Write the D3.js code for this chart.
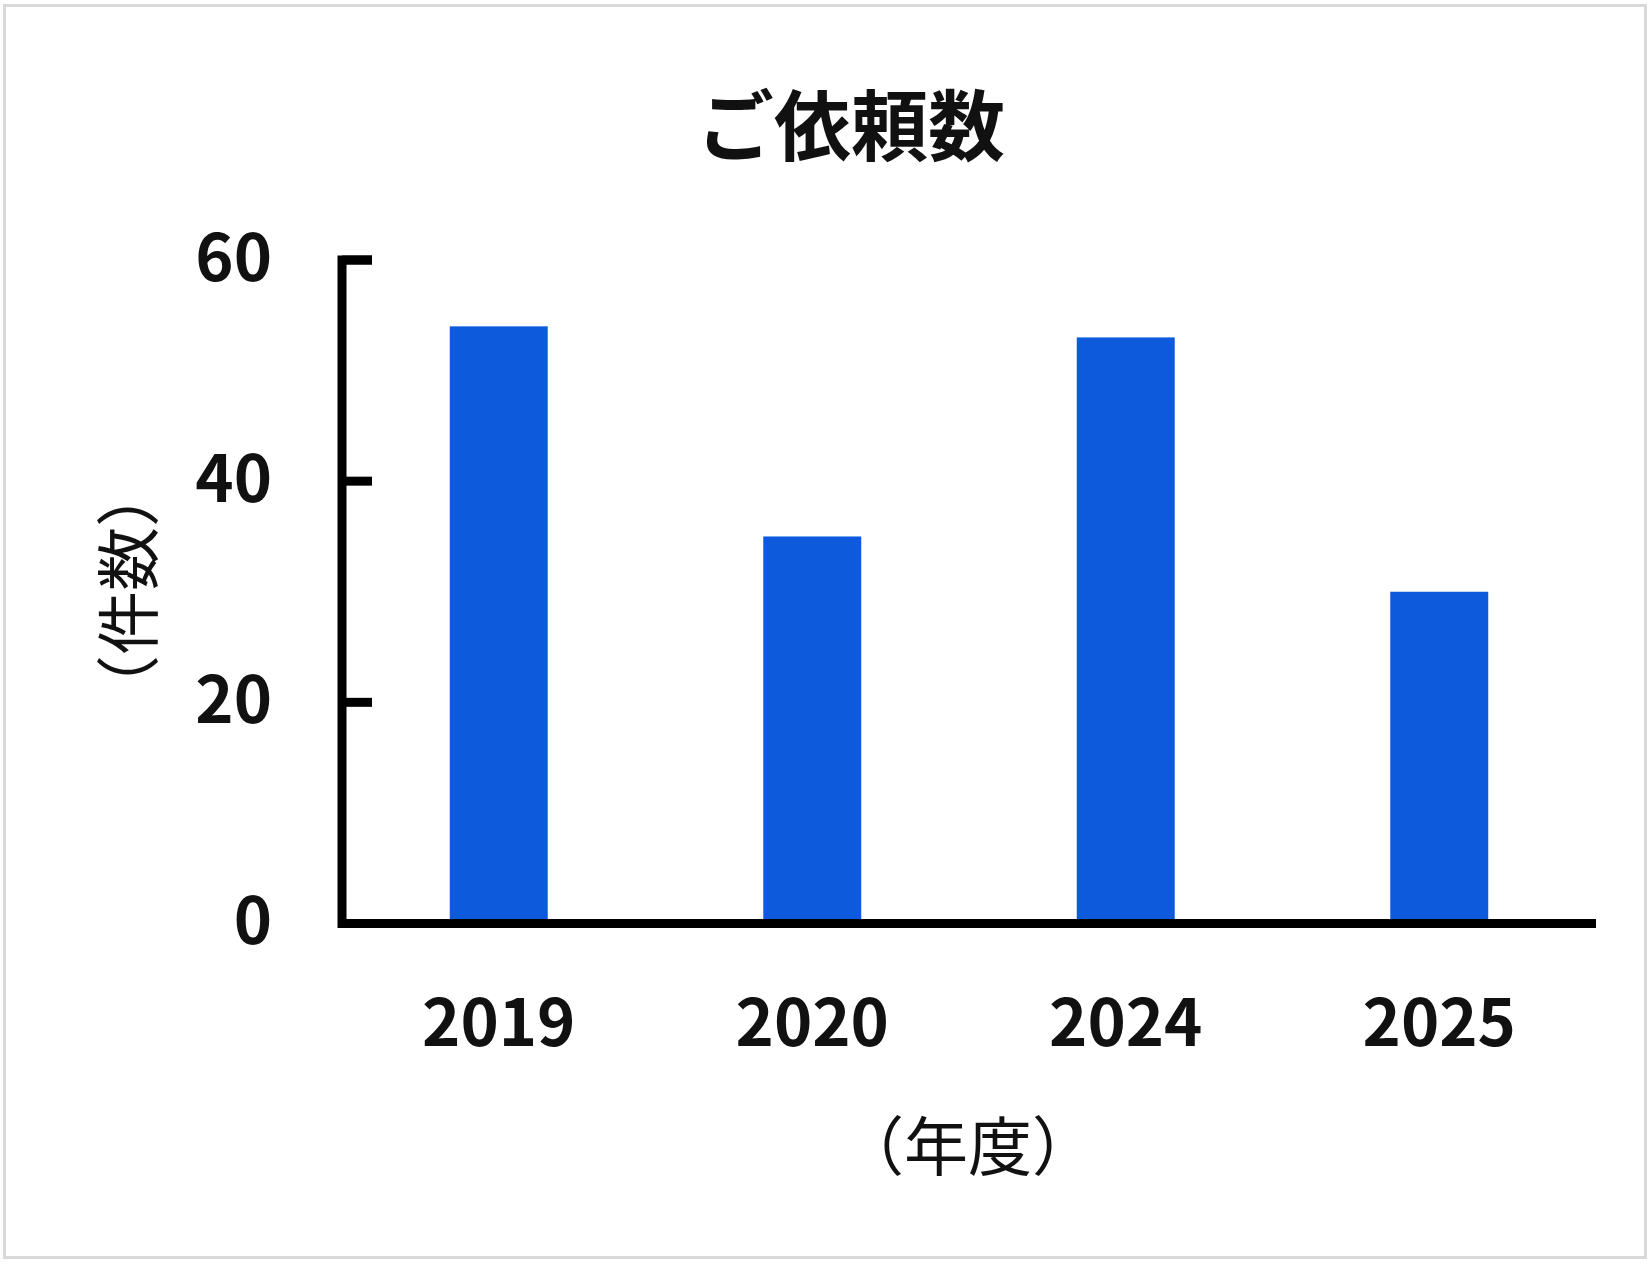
<!DOCTYPE html>
<html lang="ja">
<head>
<meta charset="utf-8">
<title>ご依頼数</title>
<style>
  html, body { margin: 0; padding: 0; background: #fff; }
  svg { display: block; font-family: 'Noto Sans CJK JP', 'Noto Sans', sans-serif; }
</style>
<script src="https://d3js.org/d3.v7.min.js"></script>
</head>
<body>
<svg id="chart" width="1650" height="1265"></svg>
<script>
// data
const years = ["2019", "2020", "2024", "2025"];
const counts = [54, 35, 53, 30];
const yTicks = [0, 20, 40, 60];
const titleText = "ご依頼数";
const yLabel = "（件数）";
const xLabel = "（年度）";

const svg = d3.select("#chart");

// frame
svg.append("rect")
  .attr("x", 4.5).attr("y", 5.5)
  .attr("width", 1641).attr("height", 1252)
  .attr("fill", "#fff")
  .attr("stroke", "#d9d9d9")
  .attr("stroke-width", 3);

const x0 = 342, x1 = 1596;
const yBase = 923.5, yTop = 260;

const x = d3.scaleBand().domain(years).range([x0, x1]).padding(0);
const y = d3.scaleLinear().domain([0, 60]).range([yBase, yTop]);
const barW = x.bandwidth() * 0.3125;

// bars
svg.append("g").selectAll("rect")
  .data(years)
  .join("rect")
  .attr("x", (d) => x(d) + x.bandwidth() / 2 - barW / 2)
  .attr("y", (d, i) => y(counts[i]))
  .attr("width", barW)
  .attr("height", (d, i) => y(0) - y(counts[i]))
  .attr("fill", "#0e5adc");

// y axis, ticks pointing into the plot
const yAxis = svg.append("g")
  .attr("transform", `translate(${x0},0)`)
  .call(d3.axisLeft(y).tickValues(yTicks).tickSizeInner(-30).tickSizeOuter(-30).tickPadding(70).offset(0));
yAxis.select(".domain").attr("stroke", "#000").attr("stroke-width", 9).attr("stroke-linejoin", "miter").attr("fill", "none");
yAxis.selectAll(".tick line").attr("stroke", "#000").attr("stroke-width", 9)
  .filter((d) => d === 0).remove();
yAxis.selectAll(".tick text")
  .attr("font-size", 65).attr("font-weight", 700).attr("fill", "#111")
  .attr("font-family", "'Noto Sans CJK JP', sans-serif");

// x axis
const xAxis = svg.append("g")
  .attr("transform", `translate(0,${yBase})`)
  .call(d3.axisBottom(x).tickSize(0).tickPadding(76).offset(0));
xAxis.select(".domain").attr("stroke", "#000").attr("stroke-width", 9);
xAxis.selectAll(".tick text")
  .attr("font-size", 65).attr("font-weight", 700).attr("fill", "#111")
  .attr("font-family", "'Noto Sans CJK JP', sans-serif");

// title
svg.append("text")
  .attr("x", 851).attr("y", 121)
  .attr("text-anchor", "middle").attr("dominant-baseline", "central")
  .attr("font-size", 77).attr("font-weight", 700).attr("fill", "#111")
  .text(titleText);

// axis titles
svg.append("text")
  .attr("transform", "translate(124,591) rotate(-90)")
  .attr("text-anchor", "middle").attr("dominant-baseline", "central")
  .attr("font-size", 64).attr("fill", "#111")
  .text(yLabel);

svg.append("text")
  .attr("x", 968).attr("y", 1142)
  .attr("text-anchor", "middle").attr("dominant-baseline", "central")
  .attr("font-size", 64).attr("fill", "#111")
  .text(xLabel);
</script>
</body>
</html>
